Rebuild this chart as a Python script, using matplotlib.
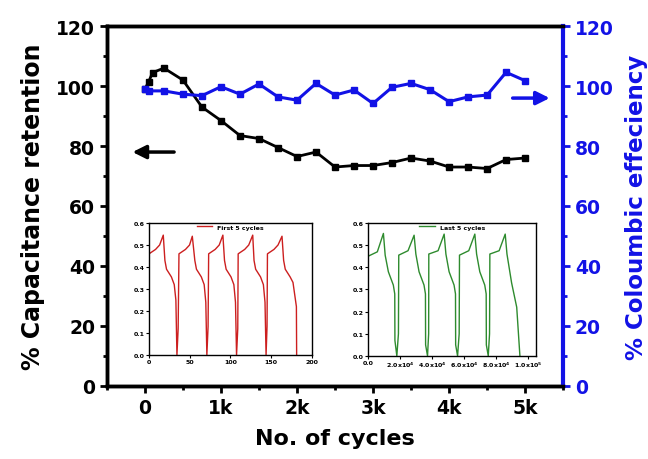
"""Cycling stability: capacitance retention and coulombic efficiency."""

import matplotlib
matplotlib.use("Agg")
import matplotlib.pyplot as plt
from matplotlib.ticker import FuncFormatter, MultipleLocator

# main plot data
cycles = [0, 50, 100, 250, 500, 750, 1000, 1250, 1500, 1750, 2000, 2250, 2500,
          2750, 3000, 3250, 3500, 3750, 4000, 4250, 4500, 4750, 5000]
retention = [99, 101.5, 104.5, 106, 102, 93, 88.5, 83.5, 82.5, 79.5, 76.5, 78,
             73, 73.5, 73.5, 74.5, 76, 75, 73, 73, 72.5, 75.5, 76]
cyc_eff = [0, 50, 250, 500, 750, 1000, 1250, 1500, 1750, 2000, 2250, 2500, 2750,
           3000, 3250, 3500, 3750, 4000, 4250, 4500, 4750, 5000]
efficiency = [99, 98.4, 98.4, 97.3, 96.8, 99.8, 97.3, 100.7, 96.4, 95.3, 100.9,
              97, 98.7, 94.2, 99.6, 100.9, 98.8, 94.8, 96.4, 97, 104.6, 101.8]
x_ticklabels = ["0", "1k", "2k", "3k", "4k", "5k"]

# inset 1: first 5 cycles (time in s, potential in V)
first_t = [0, 8, 13, 17.5, 19.5, 21.5, 27.5, 31, 33, 34.3, 35.8,
           36.8, 44.8, 49.8, 53.2, 56.3, 58.3, 64.3, 67.8, 69.8, 71.1, 72.6,
           73.3, 81.3, 86.3, 90.8, 92.8, 94.8, 100.8, 104.3, 106.3, 107.6, 109.1,
           109.6, 117.6, 122.6, 127.5, 129.1, 131.1, 137.1, 140.6, 142.6, 143.9, 145.1,
           145.6, 153.6, 158.6, 163.5, 165.5, 167.5, 173.5, 177, 181.2, 181.5]
first_v = [0.46, 0.48, 0.50, 0.545, 0.43, 0.39, 0.355, 0.32, 0.25, 0.0, 0.12,
           0.46, 0.48, 0.50, 0.54, 0.43, 0.39, 0.355, 0.32, 0.24, 0.0, 0.13,
           0.46, 0.48, 0.50, 0.545, 0.43, 0.39, 0.355, 0.32, 0.24, 0.0, 0.12,
           0.46, 0.48, 0.50, 0.545, 0.43, 0.39, 0.355, 0.32, 0.24, 0.0, 0.13,
           0.46, 0.48, 0.50, 0.54, 0.43, 0.39, 0.355, 0.33, 0.22, 0.0]

# inset 2: last 5 cycles (time in 10^4 s, potential in V)
last_t = [0, 0.58, 0.96, 1.07, 1.27, 1.58, 1.67, 1.68, 1.8, 1.9,
          1.92, 2.5, 2.88, 2.99, 3.19, 3.5, 3.59, 3.6, 3.72, 3.79,
          3.8, 4.38, 4.76, 4.87, 5.07, 5.38, 5.47, 5.48, 5.6, 5.7,
          5.72, 6.3, 6.68, 6.79, 6.99, 7.3, 7.39, 7.4, 7.52, 7.6,
          7.62, 8.2, 8.58, 8.69, 8.98, 9.3, 9.5]
last_v = [0.45, 0.47, 0.553, 0.455, 0.38, 0.32, 0.28, 0.07, 0.0, 0.1,
          0.455, 0.475, 0.545, 0.46, 0.38, 0.32, 0.28, 0.05, 0.0, 0.1,
          0.46, 0.475, 0.55, 0.46, 0.38, 0.32, 0.28, 0.05, 0.0, 0.1,
          0.455, 0.475, 0.55, 0.46, 0.38, 0.32, 0.28, 0.05, 0.0, 0.1,
          0.46, 0.475, 0.55, 0.46, 0.33, 0.22, 0.0]
inset_yticks = [0.0, 0.1, 0.2, 0.3, 0.4, 0.5, 0.6]

BLUE = "#1212e6"
plt.rcParams["font.family"] = "DejaVu Sans"
plt.rcParams["font.weight"] = "bold"

fig = plt.figure(figsize=(6.48, 4.60), dpi=100)
ax = fig.add_axes([0.165, 0.159, 0.704, 0.782])
ax2 = ax.twinx()

ax.plot(cycles, retention, color="black", marker="s", markersize=4.2, linewidth=2)
ax2.plot(cyc_eff, efficiency, color=BLUE, marker="s", markersize=4.2, linewidth=2.2)

ax.set_xlim(-500, 5500)
ax.set_ylim(0, 120)
ax2.set_ylim(0, 120)
ax.xaxis.set_major_locator(MultipleLocator(1000))
ax.xaxis.set_minor_locator(MultipleLocator(500))
ax.xaxis.set_major_formatter(FuncFormatter(
    lambda v, p: x_ticklabels[int(round(v / 1000))] if 0 <= round(v / 1000) < len(x_ticklabels) else ""))
for a in (ax, ax2):
    a.yaxis.set_major_locator(MultipleLocator(20))
    a.yaxis.set_minor_locator(MultipleLocator(10))

ax.tick_params(which="both", direction="out", width=2, labelsize=13.5, colors="black")
ax.tick_params(which="major", length=5)
ax.tick_params(which="minor", length=3)
ax2.tick_params(which="both", direction="out", width=2, labelsize=13.5, colors=BLUE)
ax2.tick_params(which="major", length=5)
ax2.tick_params(which="minor", length=3)

for s in ("left", "bottom", "top"):
    ax.spines[s].set_linewidth(2.5)
ax2.spines["right"].set_color(BLUE)
ax2.spines["right"].set_linewidth(3)
ax2.spines["left"].set_linewidth(2.5)
ax2.spines["top"].set_linewidth(2.5)
ax2.spines["bottom"].set_linewidth(2.5)

ax.set_xlabel("No. of cycles", fontsize=16, fontweight="bold", labelpad=8)
ax.set_ylabel("% Capacitance retention", fontsize=17, fontweight="bold", labelpad=8)
ax2.set_ylabel("% Coloumbic effeciency", fontsize=16.5, fontweight="bold", color=BLUE, labelpad=8)

# direction arrows
ax.annotate("", xy=(-200, 78), xytext=(420, 78),
            arrowprops=dict(arrowstyle="-|>,head_length=0.8,head_width=0.4", color="black", lw=2.5))
ax2.annotate("", xy=(5360, 96), xytext=(4800, 96),
             arrowprops=dict(arrowstyle="-|>,head_length=0.8,head_width=0.4", color=BLUE, lw=2.5))

# insets
def style_inset(axi):
    axi.set_ylim(0, 0.6)
    axi.set_yticks(inset_yticks)
    axi.yaxis.set_major_formatter(FuncFormatter(lambda v, p: f"{v:.1f}"))
    axi.tick_params(labelsize=4.5, length=2, width=0.8, pad=1)
    for lab in axi.get_xticklabels() + axi.get_yticklabels():
        lab.set_fontweight("bold")
    for s in axi.spines.values():
        s.set_linewidth(1)

in1 = fig.add_axes([0.230, 0.226, 0.251, 0.287])
in1.plot(first_t, first_v, color="#cc1f1f", linewidth=1, label="First 5 cycles")
in1.set_xlim(0, 200)
in1.set_xticks([0, 50, 100, 150, 200])
style_inset(in1)
in1.legend(loc="upper center", frameon=False, handlelength=2.5,
           borderpad=0.1, borderaxespad=0.1, prop={"weight": "bold", "size": 4.5})

in2 = fig.add_axes([0.568, 0.224, 0.259, 0.289])
in2.plot(last_t, last_v, color="#2e8b2e", linewidth=1, label="Last 5 cycles")
in2.set_xlim(0, 10.5)
in2.set_xticks([0, 2, 4, 6, 8, 10])
in2.xaxis.set_major_formatter(FuncFormatter(
    lambda v, p: "0.0" if v == 0 else (f"{v:.1f}x10$^4$" if v < 10 else "1.0x10$^5$")))
style_inset(in2)
in2.legend(loc="upper center", frameon=False, handlelength=2.5,
           borderpad=0.1, borderaxespad=0.1, prop={"weight": "bold", "size": 4.5})

fig.savefig("out.png", dpi=100)
